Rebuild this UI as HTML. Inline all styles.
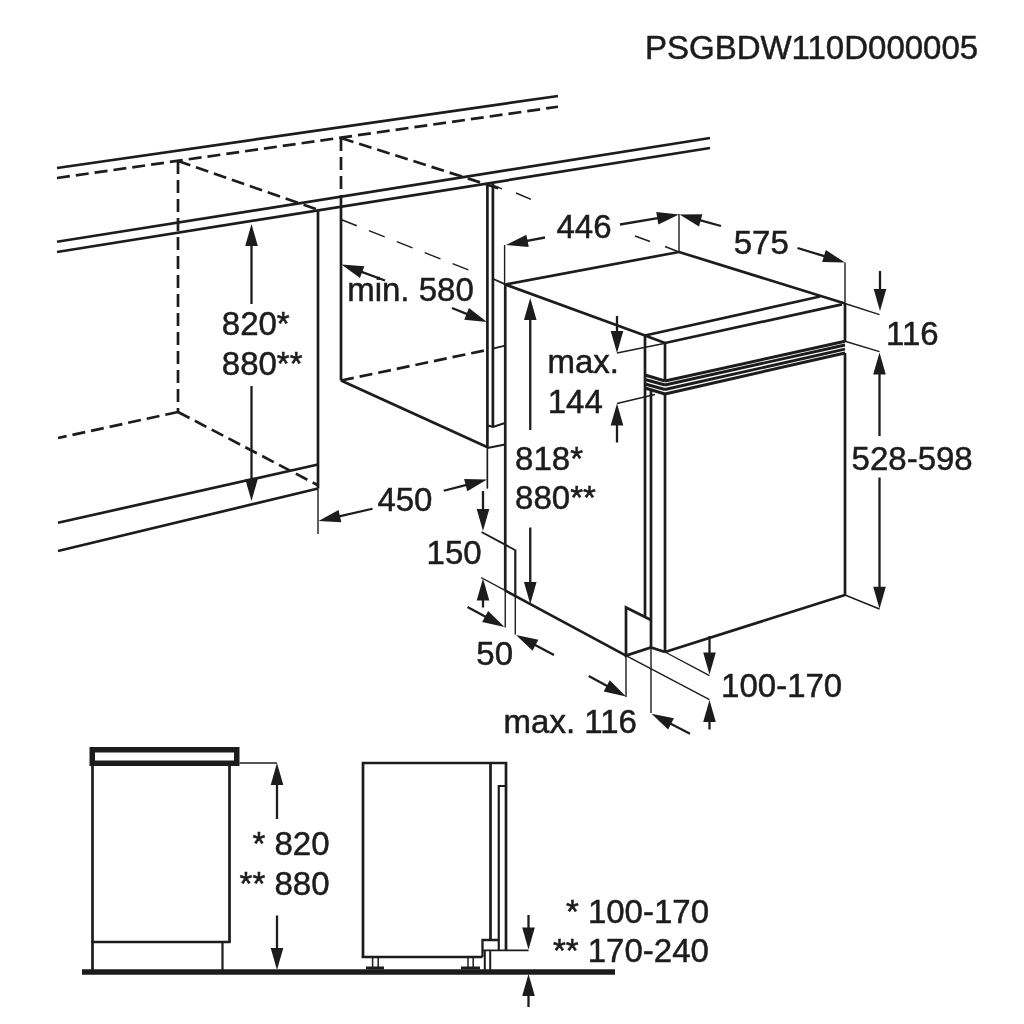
<!DOCTYPE html>
<html><head><meta charset="utf-8"><title>PSGBDW110D000005</title>
<style>
html,body{margin:0;padding:0;background:#fff;}
body{width:1024px;height:1024px;overflow:hidden;}
svg{display:block;filter:grayscale(1) blur(0.45px);}
svg text{font-family:"Liberation Sans",sans-serif;fill:#1c1c1c;stroke:#1c1c1c;stroke-width:0.5px;}
</style></head><body>
<svg width="1024" height="1024" viewBox="0 0 1024 1024" stroke="#1c1c1c" fill="none">
<rect x="0" y="0" width="1024" height="1024" fill="#ffffff" stroke="none"/>
<line x1="57" y1="168" x2="558" y2="96" stroke-width="2.7" stroke-linecap="butt"/>
<line x1="57" y1="178" x2="558" y2="106.75" stroke-width="2.7" stroke-dasharray="13 6" stroke-linecap="butt"/>
<line x1="57" y1="241.75" x2="710" y2="138" stroke-width="2.7" stroke-linecap="butt"/>
<line x1="57" y1="252" x2="710" y2="148" stroke-width="2.7" stroke-linecap="butt"/>
<line x1="178" y1="161" x2="178" y2="412" stroke-width="2.7" stroke-dasharray="13 6" stroke-linecap="butt"/>
<line x1="178" y1="161" x2="318.5" y2="210" stroke-width="2.7" stroke-dasharray="13 6" stroke-linecap="butt"/>
<line x1="178" y1="412" x2="58" y2="438" stroke-width="2.7" stroke-dasharray="13 6" stroke-linecap="butt"/>
<line x1="178" y1="412" x2="317.5" y2="485" stroke-width="2.7" stroke-dasharray="13 6" stroke-linecap="butt"/>
<line x1="341" y1="138" x2="341" y2="197" stroke-width="2.7" stroke-dasharray="13 6" stroke-linecap="butt"/>
<line x1="341" y1="138" x2="501" y2="189" stroke-width="2.7" stroke-dasharray="13 6" stroke-linecap="butt"/>
<line x1="341" y1="380.5" x2="487" y2="350" stroke-width="2.7" stroke-dasharray="13 6" stroke-linecap="butt"/>
<line x1="341" y1="219.5" x2="476" y2="273" stroke-width="1.4" stroke-dasharray="17 13" stroke-linecap="butt"/>
<line x1="492" y1="185" x2="502" y2="188.8" stroke-width="1.4" stroke-linecap="butt"/>
<line x1="516" y1="193" x2="531" y2="199.4" stroke-width="1.4" stroke-linecap="butt"/>
<line x1="635" y1="236" x2="650" y2="241.5" stroke-width="1.4" stroke-linecap="butt"/>
<line x1="665" y1="246.5" x2="679" y2="252" stroke-width="1.4" stroke-linecap="butt"/>
<line x1="58" y1="522.75" x2="318" y2="464.5" stroke-width="2.7" stroke-linecap="butt"/>
<line x1="58" y1="551" x2="318" y2="488.5" stroke-width="2.7" stroke-linecap="butt"/>
<line x1="318" y1="210.4" x2="318" y2="488.5" stroke-width="2.7" stroke-linecap="butt"/>
<line x1="318" y1="488.5" x2="318" y2="534" stroke-width="1.4" stroke-linecap="butt"/>
<line x1="341" y1="197" x2="341" y2="380.5" stroke-width="2.7" stroke-linecap="butt"/>
<line x1="341" y1="380.5" x2="487" y2="447" stroke-width="2.7" stroke-linecap="butt"/>
<line x1="487.4" y1="184" x2="487.4" y2="448" stroke-width="2.7" stroke-linecap="butt"/>
<line x1="487.4" y1="448" x2="487.4" y2="488.5" stroke-width="1.4" stroke-linecap="butt"/>
<line x1="492.9" y1="184" x2="492.9" y2="427" stroke-width="2.7" stroke-linecap="butt"/>
<line x1="492.9" y1="348.6" x2="505" y2="345.6" stroke-width="2" stroke-linecap="butt"/>
<polyline points="488,425.5 492.9,427 505,423" stroke-width="2" fill="none" stroke-linejoin="miter"/>
<line x1="487.4" y1="448" x2="505" y2="444.4" stroke-width="2" stroke-linecap="butt"/>
<line x1="492.9" y1="278.75" x2="505.25" y2="284.4" stroke-width="1.8" stroke-linecap="butt"/>
<line x1="505.25" y1="284.5" x2="679" y2="252" stroke-width="2.7" stroke-linecap="butt"/>
<line x1="679" y1="252" x2="845" y2="303.5" stroke-width="2.7" stroke-linecap="butt"/>
<line x1="505.25" y1="284.5" x2="645" y2="335.5" stroke-width="2.7" stroke-linecap="butt"/>
<line x1="645" y1="335.5" x2="820" y2="296.5" stroke-width="2.7" stroke-linecap="butt"/>
<line x1="645" y1="335.5" x2="665" y2="343" stroke-width="2.7" stroke-linecap="butt"/>
<line x1="665" y1="343" x2="842" y2="304.4" stroke-width="2.7" stroke-linecap="butt"/>
<line x1="505.25" y1="284.5" x2="505.25" y2="590.5" stroke-width="2.7" stroke-linecap="butt"/>
<line x1="505.25" y1="590.5" x2="505.25" y2="627.5" stroke-width="1.4" stroke-linecap="butt"/>
<line x1="505" y1="590.4" x2="626" y2="655.6" stroke-width="2.7" stroke-linecap="butt"/>
<line x1="481" y1="577.5" x2="505" y2="590.4" stroke-width="1.4" stroke-linecap="butt"/>
<line x1="645" y1="335.5" x2="645" y2="616" stroke-width="2.7" stroke-linecap="butt"/>
<line x1="651" y1="390.5" x2="651" y2="647.5" stroke-width="2.7" stroke-linecap="butt"/>
<line x1="651" y1="647.5" x2="651" y2="713" stroke-width="1.4" stroke-linecap="butt"/>
<line x1="665" y1="343" x2="665" y2="381" stroke-width="2.7" stroke-linecap="butt"/>
<line x1="665" y1="394" x2="665" y2="652" stroke-width="2.7" stroke-linecap="butt"/>
<line x1="665" y1="381" x2="845" y2="341.25" stroke-width="2.9" stroke-linecap="butt"/>
<line x1="665" y1="385" x2="845" y2="345" stroke-width="2.9" stroke-linecap="butt"/>
<line x1="665" y1="389.5" x2="845" y2="349.2" stroke-width="2.9" stroke-linecap="butt"/>
<line x1="665" y1="394" x2="845" y2="353" stroke-width="2.9" stroke-linecap="butt"/>
<line x1="645" y1="375" x2="665" y2="381" stroke-width="2.9" stroke-linecap="butt"/>
<line x1="645" y1="379.5" x2="665" y2="385" stroke-width="2.9" stroke-linecap="butt"/>
<line x1="645" y1="384" x2="665" y2="389.5" stroke-width="2.9" stroke-linecap="butt"/>
<line x1="645" y1="388" x2="665" y2="394" stroke-width="2.9" stroke-linecap="butt"/>
<line x1="845" y1="262.5" x2="845" y2="303.5" stroke-width="1.4" stroke-linecap="butt"/>
<line x1="845" y1="303.5" x2="845" y2="341.25" stroke-width="2.7" stroke-linecap="butt"/>
<line x1="845" y1="353" x2="845" y2="595" stroke-width="2.7" stroke-linecap="butt"/>
<line x1="665" y1="652" x2="845" y2="595" stroke-width="2.7" stroke-linecap="butt"/>
<polyline points="651,620 626,607.5 626,655.6 651,647.5 665,652" stroke-width="2.7" fill="none" stroke-linejoin="miter"/>
<line x1="626" y1="655.6" x2="626" y2="697" stroke-width="1.4" stroke-linecap="butt"/>
<line x1="665" y1="652" x2="709.5" y2="675.6" stroke-width="1.4" stroke-linecap="butt"/>
<line x1="626" y1="655.6" x2="709.5" y2="699.6" stroke-width="1.4" stroke-linecap="butt"/>
<line x1="845" y1="595" x2="879.5" y2="609" stroke-width="1.4" stroke-linecap="butt"/>
<line x1="845" y1="303.5" x2="879.5" y2="314.6" stroke-width="1.4" stroke-linecap="butt"/>
<line x1="845" y1="341.25" x2="879.5" y2="351.6" stroke-width="1.4" stroke-linecap="butt"/>
<line x1="481.5" y1="532" x2="515" y2="550" stroke-width="1.8" stroke-linecap="butt"/>
<line x1="515.3" y1="549.5" x2="515.3" y2="596" stroke-width="2.2" stroke-linecap="butt"/>
<line x1="515.3" y1="596" x2="515.3" y2="634.5" stroke-width="1.4" stroke-linecap="butt"/>
<line x1="504.6" y1="245" x2="504.6" y2="284.5" stroke-width="1.4" stroke-linecap="butt"/>
<line x1="679" y1="214" x2="679" y2="252" stroke-width="1.4" stroke-linecap="butt"/>
<line x1="617" y1="353" x2="664" y2="343.5" stroke-width="1.4" stroke-linecap="butt"/>
<line x1="617" y1="403.5" x2="655" y2="394.5" stroke-width="1.4" stroke-linecap="butt"/>
<line x1="487.4" y1="449" x2="487.4" y2="488.5" stroke-width="1.4" stroke-linecap="butt"/>
<line x1="251.50" y1="304.00" x2="251.50" y2="244.00" stroke-width="2.3"/>
<polygon points="251.50,224.00 257.80,246.00 245.20,246.00" fill="#1c1c1c" stroke="none"/>
<line x1="251.50" y1="386.00" x2="251.50" y2="481.00" stroke-width="2.3"/>
<polygon points="251.50,501.00 245.20,479.00 257.80,479.00" fill="#1c1c1c" stroke="none"/>
<line x1="385.00" y1="280.50" x2="360.27" y2="271.40" stroke-width="2.3"/>
<polygon points="341.50,264.50 364.32,266.18 359.97,278.01" fill="#1c1c1c" stroke="none"/>
<line x1="452.00" y1="308.00" x2="468.43" y2="314.57" stroke-width="2.3"/>
<polygon points="487.00,322.00 464.23,319.68 468.91,307.98" fill="#1c1c1c" stroke="none"/>
<line x1="372.50" y1="508.75" x2="338.00" y2="516.58" stroke-width="2.3"/>
<polygon points="318.50,521.00 338.56,509.99 341.35,522.28" fill="#1c1c1c" stroke="none"/>
<line x1="443.75" y1="490.75" x2="467.64" y2="484.53" stroke-width="2.3"/>
<polygon points="487.00,479.50 467.29,491.14 464.12,478.94" fill="#1c1c1c" stroke="none"/>
<line x1="483.00" y1="491.00" x2="483.00" y2="511.00" stroke-width="2.3"/>
<polygon points="483.00,531.00 476.70,509.00 489.30,509.00" fill="#1c1c1c" stroke="none"/>
<line x1="483.00" y1="607.50" x2="483.00" y2="598.50" stroke-width="2.3"/>
<polygon points="483.00,578.50 489.30,600.50 476.70,600.50" fill="#1c1c1c" stroke="none"/>
<line x1="467.50" y1="607.00" x2="486.91" y2="617.49" stroke-width="2.3"/>
<polygon points="504.50,627.00 482.15,622.08 488.14,611.00" fill="#1c1c1c" stroke="none"/>
<line x1="554.00" y1="655.00" x2="533.70" y2="644.31" stroke-width="2.3"/>
<polygon points="516.00,635.00 538.40,639.67 532.53,650.82" fill="#1c1c1c" stroke="none"/>
<line x1="545.00" y1="237.50" x2="525.64" y2="241.22" stroke-width="2.3"/>
<polygon points="506.00,245.00 526.41,234.66 528.79,247.03" fill="#1c1c1c" stroke="none"/>
<line x1="620.00" y1="224.50" x2="659.28" y2="217.84" stroke-width="2.3"/>
<polygon points="679.00,214.50 658.36,224.39 656.26,211.96" fill="#1c1c1c" stroke="none"/>
<line x1="721.00" y1="226.00" x2="698.77" y2="219.84" stroke-width="2.3"/>
<polygon points="679.50,214.50 702.38,214.30 699.02,226.45" fill="#1c1c1c" stroke="none"/>
<line x1="797.50" y1="248.00" x2="825.87" y2="256.66" stroke-width="2.3"/>
<polygon points="845.00,262.50 822.12,262.10 825.80,250.05" fill="#1c1c1c" stroke="none"/>
<line x1="880.00" y1="271.00" x2="880.00" y2="291.00" stroke-width="2.3"/>
<polygon points="880.00,311.00 873.70,289.00 886.30,289.00" fill="#1c1c1c" stroke="none"/>
<line x1="879.50" y1="436.00" x2="879.50" y2="372.50" stroke-width="2.3"/>
<polygon points="879.50,352.50 885.80,374.50 873.20,374.50" fill="#1c1c1c" stroke="none"/>
<line x1="879.50" y1="477.50" x2="879.50" y2="588.75" stroke-width="2.3"/>
<polygon points="879.50,608.75 873.20,586.75 885.80,586.75" fill="#1c1c1c" stroke="none"/>
<line x1="530.25" y1="430.00" x2="530.25" y2="318.00" stroke-width="2.3"/>
<polygon points="530.25,298.00 536.55,320.00 523.95,320.00" fill="#1c1c1c" stroke="none"/>
<line x1="530.25" y1="527.50" x2="530.25" y2="584.00" stroke-width="2.3"/>
<polygon points="530.25,604.00 523.95,582.00 536.55,582.00" fill="#1c1c1c" stroke="none"/>
<line x1="617.00" y1="316.00" x2="617.00" y2="333.00" stroke-width="2.3"/>
<polygon points="617.00,353.00 610.70,331.00 623.30,331.00" fill="#1c1c1c" stroke="none"/>
<line x1="617.00" y1="442.50" x2="617.00" y2="423.50" stroke-width="2.3"/>
<polygon points="617.00,403.50 623.30,425.50 610.70,425.50" fill="#1c1c1c" stroke="none"/>
<line x1="709.50" y1="636.00" x2="709.50" y2="654.50" stroke-width="2.3"/>
<polygon points="709.50,674.50 703.20,652.50 715.80,652.50" fill="#1c1c1c" stroke="none"/>
<line x1="709.50" y1="729.50" x2="709.50" y2="720.00" stroke-width="2.3"/>
<polygon points="709.50,700.00 715.80,722.00 703.20,722.00" fill="#1c1c1c" stroke="none"/>
<line x1="588.75" y1="676.00" x2="608.48" y2="686.86" stroke-width="2.3"/>
<polygon points="626.00,696.50 603.69,691.41 609.76,680.37" fill="#1c1c1c" stroke="none"/>
<line x1="690.00" y1="733.75" x2="669.25" y2="722.97" stroke-width="2.3"/>
<polygon points="651.50,713.75 673.93,718.30 668.12,729.48" fill="#1c1c1c" stroke="none"/>
<line x1="277.00" y1="819.00" x2="277.00" y2="783.00" stroke-width="2.3"/>
<polygon points="277.00,763.00 283.30,785.00 270.70,785.00" fill="#1c1c1c" stroke="none"/>
<line x1="277.00" y1="915.50" x2="277.00" y2="950.00" stroke-width="2.3"/>
<polygon points="277.00,970.00 270.70,948.00 283.30,948.00" fill="#1c1c1c" stroke="none"/>
<line x1="528.50" y1="915.00" x2="528.50" y2="929.50" stroke-width="2.3"/>
<polygon points="528.50,949.50 522.20,927.50 534.80,927.50" fill="#1c1c1c" stroke="none"/>
<line x1="528.50" y1="1007.00" x2="528.50" y2="994.00" stroke-width="2.3"/>
<polygon points="528.50,974.00 534.80,996.00 522.20,996.00" fill="#1c1c1c" stroke="none"/>
<rect x="92.25" y="749.75" width="144.5" height="13.5" stroke-width="5.5" fill="#fff"/>
<line x1="92.5" y1="766" x2="92.5" y2="970" stroke-width="2.7" stroke-linecap="butt"/>
<line x1="229.5" y1="766" x2="229.5" y2="942" stroke-width="2.7" stroke-linecap="butt"/>
<line x1="91.3" y1="942" x2="230.7" y2="942" stroke-width="2.7" stroke-linecap="butt"/>
<line x1="222.5" y1="942" x2="222.5" y2="970" stroke-width="2.2" stroke-linecap="butt"/>
<line x1="82" y1="972" x2="615" y2="972" stroke-width="5.5" stroke-linecap="butt"/>
<line x1="239.5" y1="763" x2="277" y2="763" stroke-width="1.6" stroke-linecap="butt"/>
<polyline points="363,958 363,763 506,763 506,950.5" stroke-width="2.7" fill="none" stroke-linejoin="miter"/>
<line x1="490.5" y1="763" x2="490.5" y2="940" stroke-width="2.7" stroke-linecap="butt"/>
<polyline points="506,786 498.75,786 498.75,950.5" stroke-width="2.2" fill="none" stroke-linejoin="miter"/>
<line x1="361.8" y1="957" x2="482.5" y2="957" stroke-width="2.7" stroke-linecap="butt"/>
<polyline points="482.5,957 482.5,940 498.75,940" stroke-width="2.3" fill="none" stroke-linejoin="miter"/>
<line x1="482.5" y1="950.3" x2="528.5" y2="950.3" stroke-width="1.8" stroke-linecap="butt"/>
<line x1="484.8" y1="950" x2="484.8" y2="970" stroke-width="2" stroke-linecap="butt"/>
<line x1="490.2" y1="950" x2="490.2" y2="970" stroke-width="2" stroke-linecap="butt"/>
<line x1="372.6" y1="957" x2="372.6" y2="967" stroke-width="1.5" stroke-linecap="butt"/>
<line x1="378.2" y1="957" x2="378.2" y2="967" stroke-width="1.5" stroke-linecap="butt"/>
<line x1="366" y1="968" x2="384" y2="968" stroke-width="3" stroke-linecap="butt"/>
<line x1="468" y1="957" x2="468" y2="967" stroke-width="1.5" stroke-linecap="butt"/>
<line x1="473.2" y1="957" x2="473.2" y2="967" stroke-width="1.5" stroke-linecap="butt"/>
<line x1="461" y1="968" x2="480" y2="968" stroke-width="3" stroke-linecap="butt"/>
<text x="644.95" y="58.95" font-size="33" text-anchor="start">PSGBDW110D000005</text>
<text x="347.2" y="300.7" font-size="33" text-anchor="start">min. 580</text>
<text x="851.6" y="470.0" font-size="33" text-anchor="start">528-598</text>
<text x="221.8" y="335.4" font-size="33" text-anchor="start">820*</text>
<text x="221.8" y="375.3" font-size="33" text-anchor="start">880**</text>
<text x="377.4" y="511.1" font-size="33" text-anchor="start">450</text>
<text x="426.6" y="564.2" font-size="33" text-anchor="start">150</text>
<text x="476.3" y="664.7" font-size="33" text-anchor="start">50</text>
<text x="503.6" y="733.0" font-size="33" text-anchor="start">max. 116</text>
<text x="556.5" y="237.8" font-size="33" text-anchor="start">446</text>
<text x="733.7" y="253.5" font-size="33" text-anchor="start">575</text>
<text x="886.1" y="345.1" font-size="33" text-anchor="start">116</text>
<text x="547.5" y="373.1" font-size="33" text-anchor="start">max.</text>
<text x="547.7" y="412.7" font-size="33" text-anchor="start">144</text>
<text x="515.1" y="469.7" font-size="33" text-anchor="start">818*</text>
<text x="515.1" y="509.3" font-size="33" text-anchor="start">880**</text>
<text x="721.1" y="697.2" font-size="33" text-anchor="start">100-170</text>
<text x="252.5" y="855.1" font-size="33" text-anchor="start">* 820</text>
<text x="239.6" y="894.9" font-size="33" text-anchor="start">** 880</text>
<text x="565.9" y="922.5" font-size="33" text-anchor="start">* 100-170</text>
<text x="552.9" y="962.0" font-size="33" text-anchor="start">** 170-240</text>
</svg>
</body></html>
